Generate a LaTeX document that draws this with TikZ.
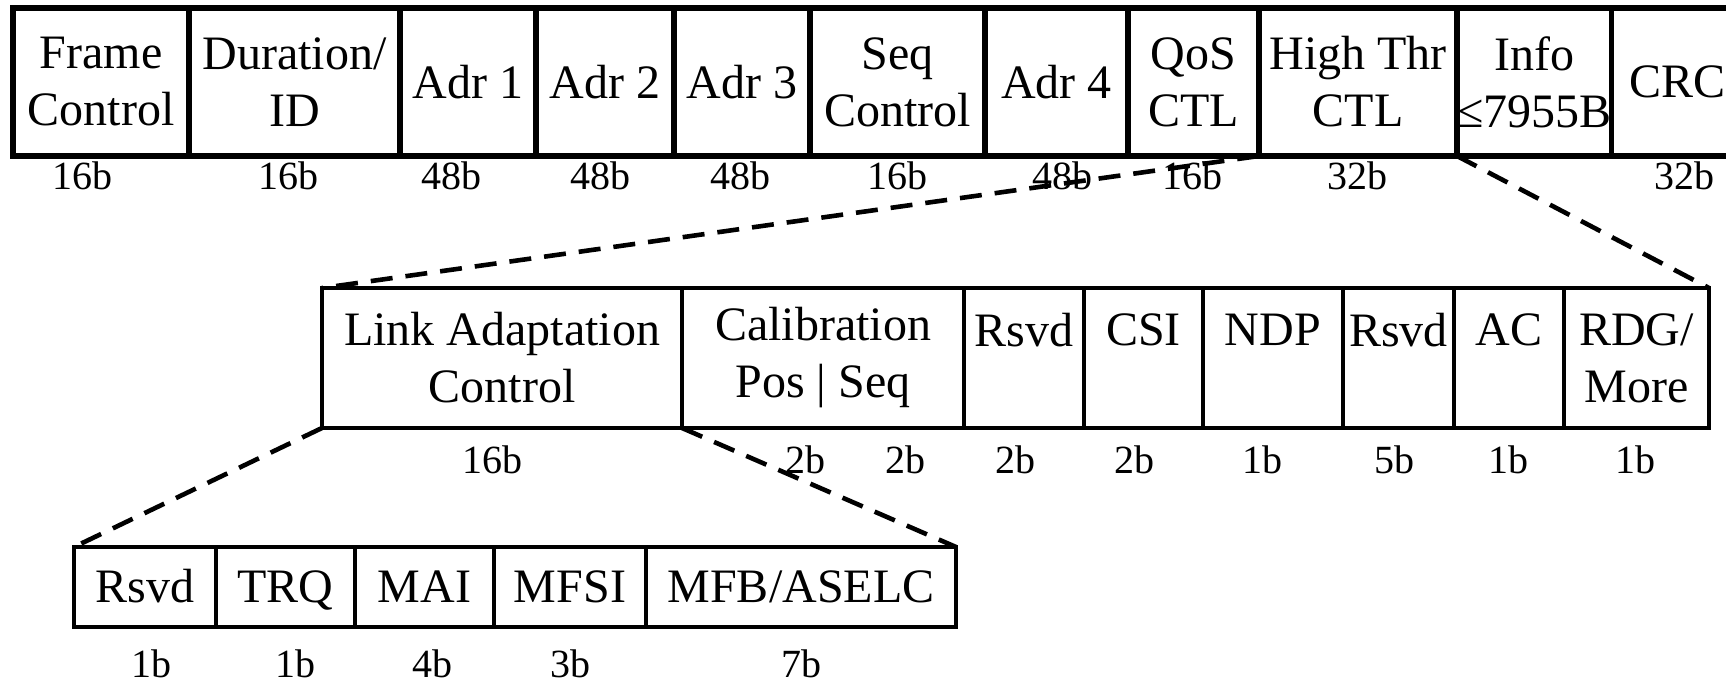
\documentclass[tikz,border=0pt]{standalone}
\usepackage{fontspec}
\setmainfont{Liberation Serif}
\usetikzlibrary{positioning}
\tikzset{
  fld/.style={
    rectangle, draw=black, inner sep=0pt, outer sep=0pt,
    align=center, font=\fontsize{24}{28.5}\selectfont
  },
  topfld/.style={fld, line width=2.8pt, minimum height=74pt},
  midfld/.style={fld, line width=2pt, minimum height=70pt},
  lowfld/.style={fld, line width=2pt, minimum height=40pt,
    text height=18pt, text depth=2pt},
  bits/.style={inner sep=0pt, font=\fontsize{20}{24}\selectfont},
  zoomline/.style={line width=2.3pt, dash pattern=on 11pt off 6.5pt},
}

\begin{document}
\begin{tikzpicture}[x=0.5pt, y=-0.5pt, node distance=0pt]
  \useasboundingbox (0,0) rectangle (1726,683);

  \node (fc)   [topfld, minimum width=88pt, anchor=north west] at (13,8) {Frame\\Control};
  \node (dur)  [topfld, minimum width=105.5pt, right=of fc]   {Duration/\\ID};
  \node (adra) [topfld, minimum width=68pt,   right=of dur]   {Adr 1};
  \node (adrb) [topfld, minimum width=69pt,   right=of adra]  {Adr 2};
  \node (adrc) [topfld, minimum width=68pt,   right=of adrb]  {Adr 3};
  \node (seq)  [topfld, minimum width=87.5pt, right=of adrc]  {Seq\\Control};
  \node (adrd) [topfld, minimum width=71.5pt, right=of seq]   {Adr 4};
  \node (qos)  [topfld, minimum width=65.5pt, right=of adrd]  {QoS\\CTL};
  \node (htc)  [topfld, minimum width=99pt,   right=of qos]   {High Thr\\CTL};
  \node (info) [topfld, minimum width=77pt,   right=of htc]   {Info\\≤7955B};
  \node (crc)  [topfld, minimum width=66pt,   right=of info]  {CRC};

  \node (b-fc)   [bits] at (83,176)   {16b};
  \node (b-dur)  [bits] at (288,176)  {16b};
  \node (b-adra) [bits] at (451,176)  {48b};
  \node (b-adrb) [bits] at (600,176)  {48b};
  \node (b-adrc) [bits] at (740,176)  {48b};
  \node (b-seq)  [bits] at (897,176)  {16b};
  \node (b-adrd) [bits] at (1062,176) {48b};
  \node (b-qos)  [bits] at (1192,176) {16b};
  \node (b-htc)  [bits] at (1357,176) {32b};
  \node (b-crc)  [bits] at (1684,176) {32b};

  \node (lac)   [midfld, minimum width=180pt, anchor=north west] at (322,288) {Link Adaptation\\Control};
  \node (cal)   [midfld, minimum width=141pt,  right=of lac]   {Calibration\\Pos | Seq};
  \node (rsvda) [midfld, minimum width=60pt,   right=of cal]   {Rsvd\\~};
  \node (csi)   [midfld, minimum width=59.5pt, right=of rsvda] {CSI\\~};
  \node (ndp)   [midfld, minimum width=70pt,   right=of csi]   {NDP\\~};
  \node (rsvdb) [midfld, minimum width=55.5pt, right=of ndp]   {Rsvd\\~};
  \node (ac)    [midfld, minimum width=55pt,   right=of rsvdb] {AC\\~};
  \node (rdg)   [midfld, minimum width=72.5pt, right=of ac]    {RDG/\\More};

  \node (b-lac)   [bits] at (492,460)  {16b};
  \node (b-pos)   [bits] at (805,460)  {2b};
  \node (b-seqn)  [bits] at (905,460)  {2b};
  \node (b-rsvda) [bits] at (1015,460) {2b};
  \node (b-csi)   [bits] at (1134,460) {2b};
  \node (b-ndp)   [bits] at (1262,460) {1b};
  \node (b-rsvdb) [bits] at (1394,460) {5b};
  \node (b-ac)    [bits] at (1508,460) {1b};
  \node (b-rdg)   [bits] at (1635,460) {1b};

  \node (rsvdc) [lowfld, minimum width=71pt, anchor=north west] at (74,547) {Rsvd};
  \node (trq)   [lowfld, minimum width=69.5pt, right=of rsvdc] {TRQ};
  \node (mai)   [lowfld, minimum width=69.5pt, right=of trq]   {MAI};
  \node (mfsi)  [lowfld, minimum width=76pt,   right=of mai]   {MFSI};
  \node (mfb)   [lowfld, minimum width=155pt,  right=of mfsi]  {MFB/ASELC};

  \node (b-rsvdc) [bits] at (151,664) {1b};
  \node (b-trq)   [bits] at (295,664) {1b};
  \node (b-mai)   [bits] at (432,664) {4b};
  \node (b-mfsi)  [bits] at (570,664) {3b};
  \node (b-mfb)   [bits] at (801,664) {7b};

  \draw [zoomline] (htc.south west) -- (lac.north west);
  \draw [zoomline] (htc.south east) -- (rdg.north east);
  \draw [zoomline] (lac.south west) -- (rsvdc.north west);
  \draw [zoomline] (lac.south east) -- (mfb.north east);
\end{tikzpicture}
\end{document}
